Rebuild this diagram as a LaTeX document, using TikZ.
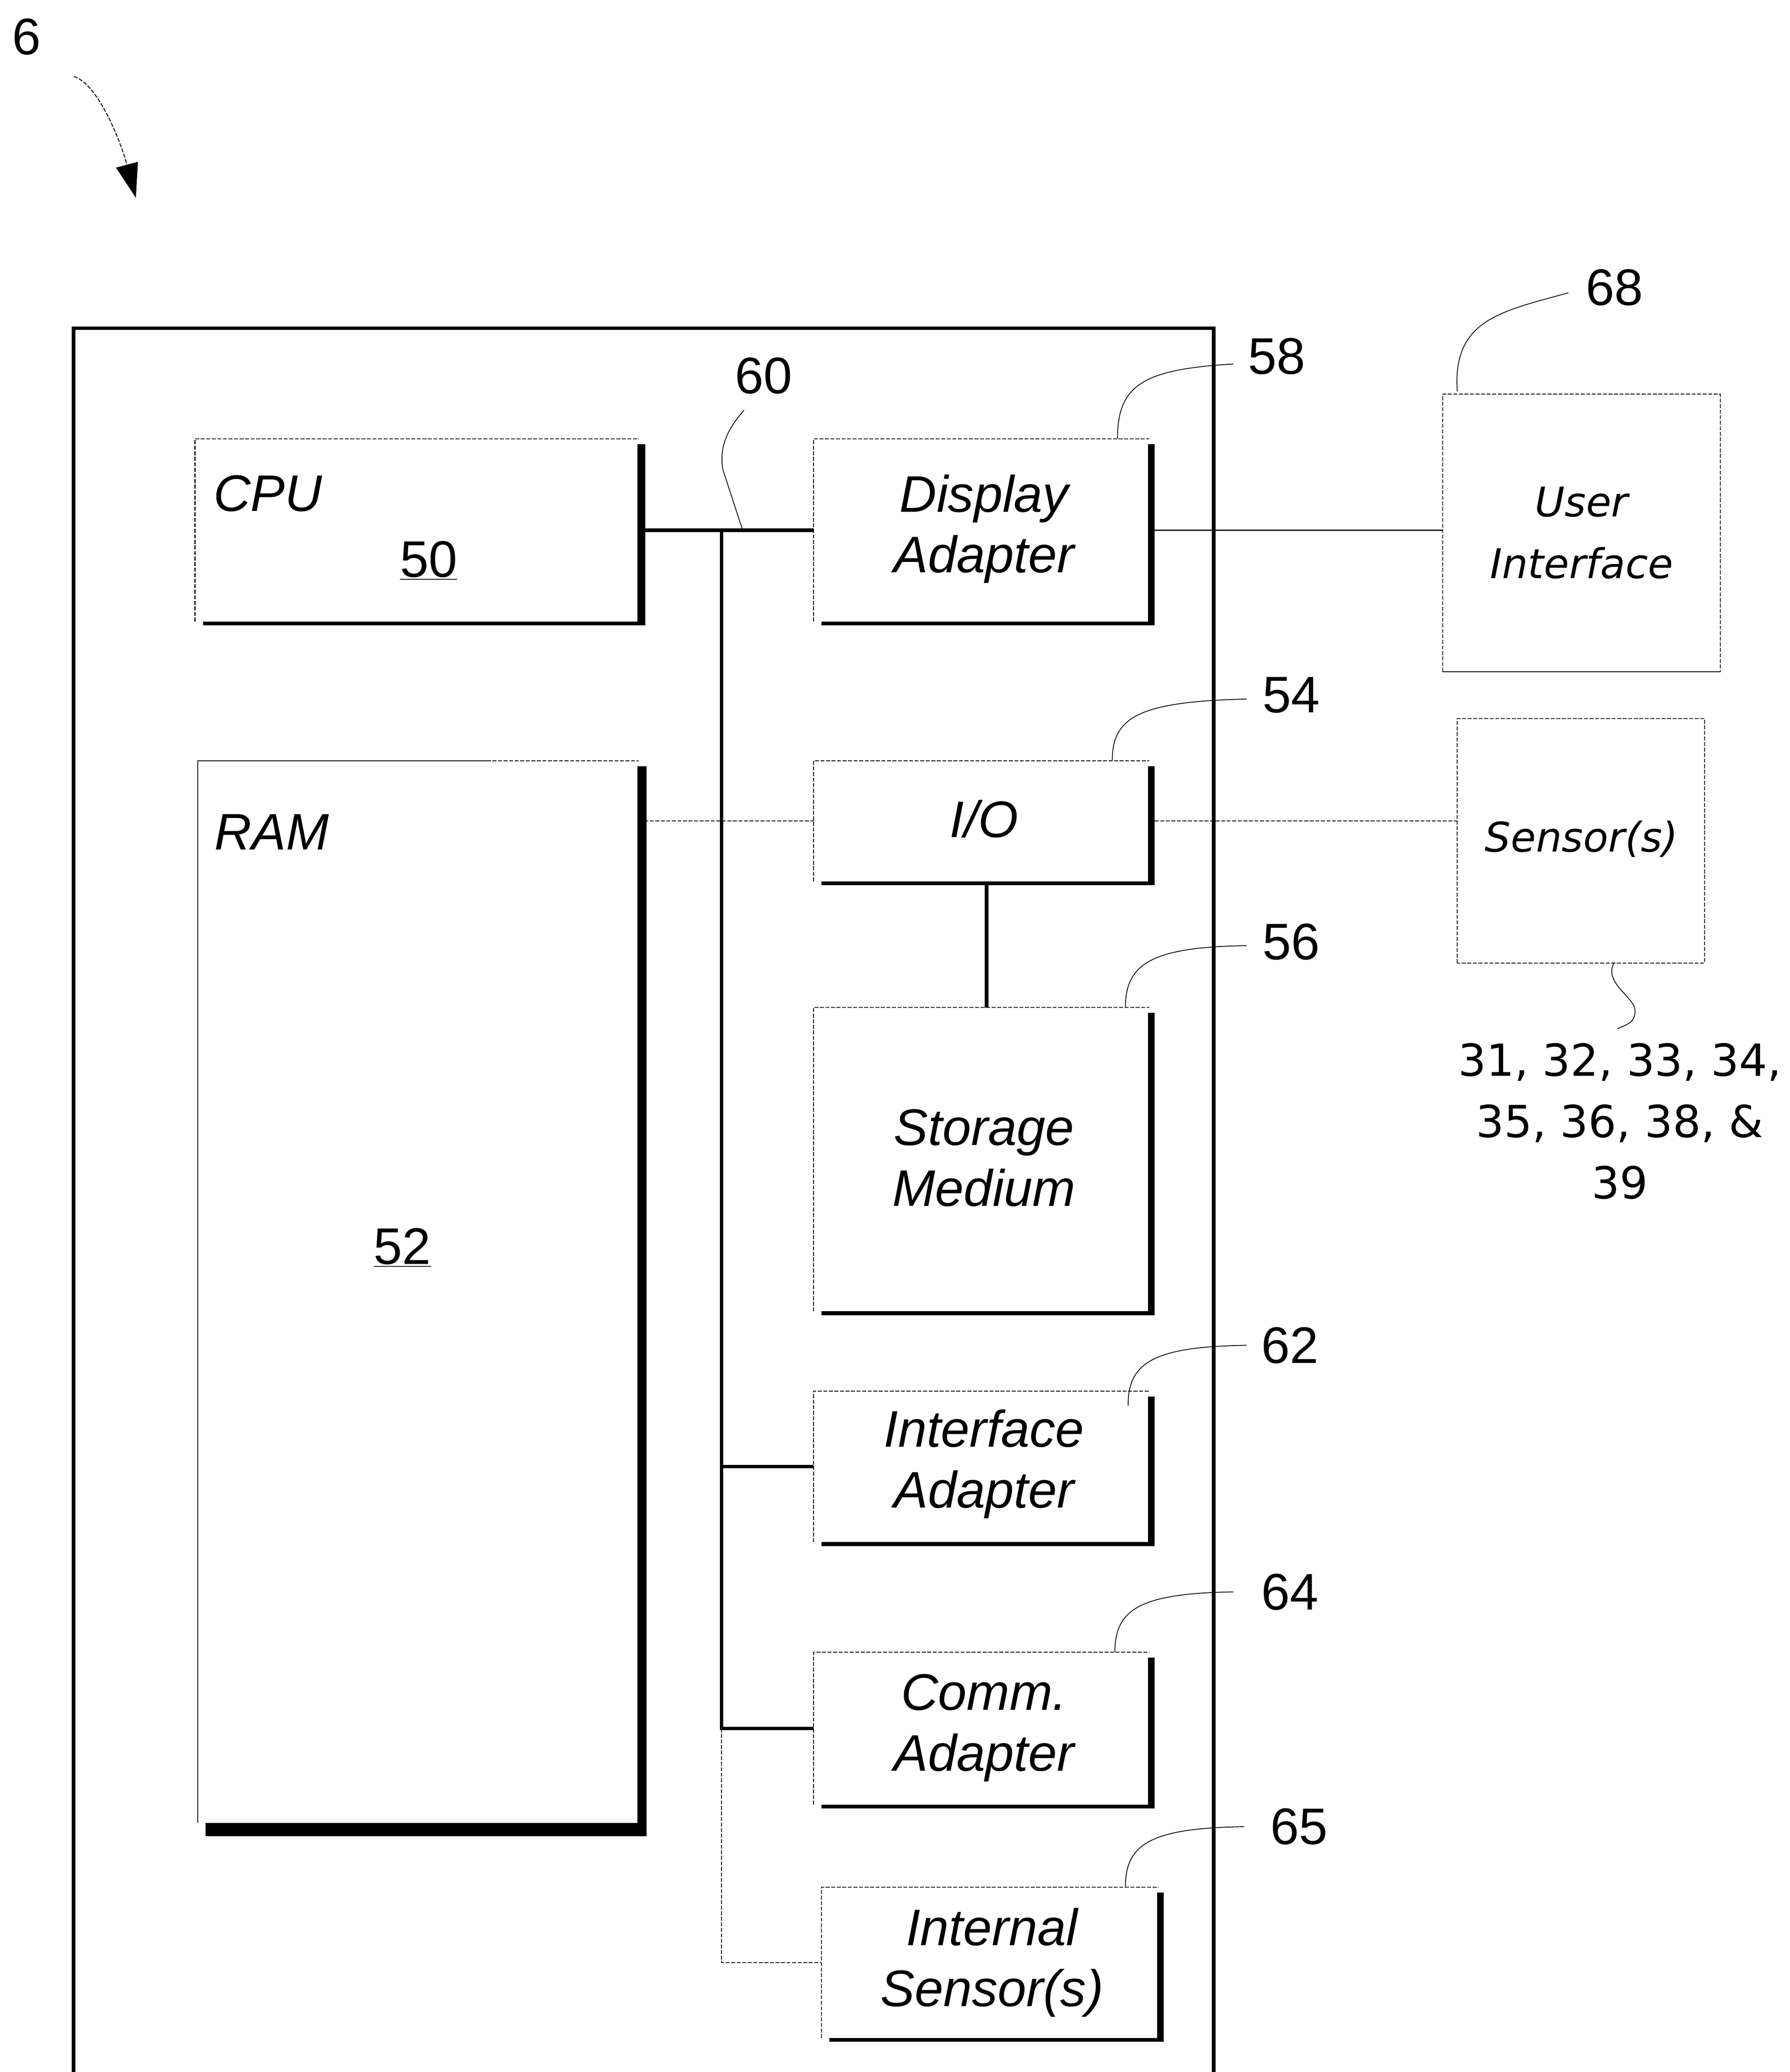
\documentclass[tikz,border=0pt]{standalone}
\usepackage{fontspec}
\setmainfont{Liberation Sans}
\newfontfamily\dvs{DejaVu Sans}
\usetikzlibrary{arrows.meta,calc}
\tikzset{
  box/.style={rectangle, draw=none, inner sep=0pt},
  thinl/.style={line width=0.7pt},
  dashl/.style={line width=0.7pt, dash pattern=on 3pt off 1.2pt},
  heavy/.style={line width=2.7pt},
  leader/.style={line width=0.6pt},
  lbl/.style={font=\fontsize{39}{46}\selectfont, inner sep=0pt},
  btxt/.style={font=\fontsize{39}{46}\selectfont\itshape, align=center, inner sep=0pt},
  dtxt/.style={font=\fontsize{31}{47}\selectfont\dvs\itshape, align=center, inner sep=0pt},
  ntxt/.style={font=\fontsize{33.5}{46.5}\selectfont\dvs, align=center, inner sep=0pt},
}
\newcommand\drawshbox[3]{%
  \draw[dashl] (#1.south west) -- (#1.north west) -- (#1.north east);
  \fill ([shift={(-1pt,-4pt)}]#1.north east) rectangle ([shift={(#2-1pt,-#3)}]#1.south east);
  \fill ([shift={(6pt,0pt)}]#1.south west) rectangle ([shift={(#2-1pt,-#3)}]#1.south east);
}
\begin{document}
\begin{tikzpicture}[x=1pt,y=-1pt]
\useasboundingbox (0,0) rectangle (1357,1571);

% outer frame
\node[box, minimum width=864pt, minimum height=1360pt] (outer) at (488,929) {};
\draw[heavy] (outer.south west) -- (outer.north west) -- (outer.north east) -- (outer.south east);

% boxes
\node[box, minimum width=336pt, minimum height=138pt] (cpu) at (316,402) {};
\node[box, minimum width=334pt, minimum height=805pt] (ram) at (317,979.5) {};
\node[box, minimum width=254pt, minimum height=138pt] (disp) at (744,402) {};
\node[box, minimum width=254pt, minimum height=91pt] (io) at (744,622.5) {};
\node[box, minimum width=254pt, minimum height=230pt] (stor) at (744,879) {};
\node[box, minimum width=254pt, minimum height=114pt] (ifa) at (744,1112) {};
\node[box, minimum width=254pt, minimum height=115pt] (comm) at (744,1310.5) {};
\node[box, minimum width=255pt, minimum height=114pt] (isen) at (750.5,1488) {};
\node[box, minimum width=210pt, minimum height=210pt] (ui) at (1199,404) {};
\node[box, minimum width=187pt, minimum height=185pt] (sens) at (1198.5,637.5) {};

\drawshbox{cpu}{6pt}{3pt}
\drawshbox{ram}{7pt}{10pt}
\draw[thinl] ([xshift=220pt]ram.north west) -- (ram.north west) -- (ram.south west);
\drawshbox{disp}{5pt}{3pt}
\drawshbox{io}{5pt}{3pt}
\drawshbox{stor}{5pt}{3pt}
\drawshbox{ifa}{5pt}{3pt}
\drawshbox{comm}{5pt}{3pt}
\drawshbox{isen}{5pt}{3pt}
\draw[dashl] (ui.south west) -- (ui.north west) -- (ui.north east) -- (ui.south east);
\draw[thinl] (ui.south west) -- (ui.south east);
\draw[dashl] (sens.south west) rectangle (sens.north east);

% connectors
\coordinate (bt) at (547,402);
\draw[heavy] (cpu.east) -- (disp.west);
\draw[heavy] (bt) -- (bt |- comm.west) -- (comm.west);
\draw[heavy] (bt |- ifa.west) -- (ifa.west);
\draw[dashl] (bt |- comm.west) -- (bt |- isen.west) -- (isen.west);
\draw[dashl] (ram.east |- io.west) -- (io.west);
\draw[dashl] (io.east) -- (io.east -| sens.west);
\draw[thinl] (disp.east) -- (disp.east -| ui.west);
\draw[heavy] ([xshift=4pt]io.south) -- ([xshift=4pt]stor.north);

% texts in boxes
\node[btxt] (cpuT) at (203,374) {CPU};
\node[lbl] (cpuN) at (325,425) {\underline{50}};
\node[btxt] (ramT) at (206,631) {RAM};
\node[lbl] (ramN) at (305,946) {\underline{52}};
\node[btxt] (dispT) at (746,401) {Display\\Adapter};
\node[btxt] (ioT) at (746,621) {I/O};
\node[btxt] (storT) at (746,878) {Storage\\Medium};
\node[btxt] (ifaT) at (746,1110) {Interface\\Adapter};
\node[btxt] (commT) at (746,1310) {Comm.\\Adapter};
\node[btxt] (isenT) at (752,1488) {Internal\\Sensor(s)};
\node[dtxt] (uiT) at (1199,404) {User\\Interface};
\node[dtxt] (sensT) at (1199,636) {Sensor(s)};
\node[ntxt] (sensN) at (1228,850) {31, 32, 33, 34,\\35, 36, 38, \&\\39};

% reference labels
\node[lbl] (l6) at (20,28) {6};
\node[lbl] (l60) at (579,285) {60};
\node[lbl] (l58) at (968,270) {58};
\node[lbl] (l68) at (1224,218) {68};
\node[lbl] (l54) at (979,527) {54};
\node[lbl] (l56) at (979,714) {56};
\node[lbl] (l62) at (978,1020) {62};
\node[lbl] (l64) at (978,1207) {64};
\node[lbl] (l65) at (985,1385) {65};

% leader lines
\coordinate (q58) at (935,276);
\coordinate (q54) at (945,530);
\coordinate (q56) at (945,717);
\coordinate (q62) at (945,1020);
\coordinate (q64) at (935,1207);
\coordinate (q65) at (943,1385);
\coordinate (q68) at (1189,222);
\coordinate (q60) at (564,311);
\coordinate (qsn) at (1226,780);
\draw[leader] ([xshift=-24pt]disp.north east) .. controls +(0,-40) and +(-70,4) .. (q58);
\draw[leader] ([xshift=-28pt]io.north east) .. controls +(0,-33) and +(-82,2) .. (q54);
\draw[leader] ([xshift=-18pt]stor.north east) .. controls +(0,-33) and +(-72,1) .. (q56);
\draw[leader] ([shift={(-16pt,-11pt)}]ifa.north east) .. controls +(0,-32) and +(-72,1) .. (q62);
\draw[leader] ([xshift=-26pt]comm.north east) .. controls +(0,-32) and +(-72,1) .. (q64);
\draw[leader] ([xshift=-25pt]isen.north east) .. controls +(0,-32) and +(-72,1) .. (q65);
\draw[leader] ([shift={(11pt,2pt)}]ui.north west) .. controls +(-4,-55) and +(-50,14) .. (q68);
\draw[leader] ([xshift=16pt]bt) -- ++(-15,-46) .. controls +(-3,-18) and +(-12,14) .. (q60);
\draw[leader] ([xshift=25pt]sens.south) .. controls +(-8,15) and +(0,-10) .. ++(16,36) .. controls +(0,8) and +(10,-4) .. (qsn);

% figure arrow
\coordinate (a6s) at (56,58);
\coordinate (a6e) at (103,150);
\draw[dashl, -{Triangle[length=26pt,width=17pt]}] (a6s) .. controls (75,64) and (92,109) .. (a6e);
\end{tikzpicture}
\end{document}
